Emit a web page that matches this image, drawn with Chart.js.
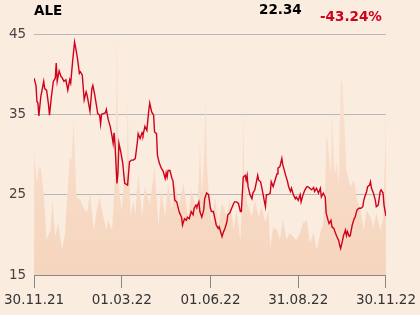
<!DOCTYPE html>
<html>
<head>
<meta charset="utf-8">
<script src="https://cdn.jsdelivr.net/npm/chart.js@4/dist/chart.umd.min.js"></script>
<style>
  html, body { margin: 0; padding: 0; background: #fbece0; }
  #wrap { position: relative; width: 420px; height: 315px; }
  canvas { position: absolute; left: 0; top: 0; }
  .hd { position: absolute; font-family: 'DejaVu Sans', sans-serif; font-weight: bold; font-size: 13.5px; line-height: 1; white-space: nowrap; }
  #sym { left: 34px; top: 3.6px; color: #000; }
  #last { left: 259px; top: 2.6px; color: #000; }
  #chg { left: 320px; top: 9.6px; color: #d0021b; }
</style>
</head>
<body>
<div id="wrap">
  <canvas id="chart" width="420" height="315"></canvas>
  <div class="hd" id="sym">ALE</div>
  <div class="hd" id="last">22.34</div>
  <div class="hd" id="chg">-43.24%</div>
</div>
<script>
// Tage seit 30.11.21
const tickDays = [0, 91, 183, 274, 365];
const tickLabels = ['30.11.21', '01.03.22', '01.06.22', '31.08.22', '30.11.22'];
const yTicks = [15, 25, 35, 45];

// Kurs
const priceDays = [0, 2, 3, 4, 5, 7, 10, 11, 13, 15, 16, 18, 20, 22, 23, 24, 26, 28, 29, 31, 33, 35, 37, 38, 40, 42, 43, 45, 47, 48,
  50, 52, 54, 55, 58, 60, 61, 63, 65, 66, 68, 69, 70, 72, 74, 75, 77, 79, 81, 82, 83, 84, 86, 87, 88, 90, 92, 94, 97, 99,
  101, 103, 105, 107, 108, 110, 112, 113, 115, 117, 119, 120, 122, 124, 125, 127, 128, 130, 132, 134, 136, 137, 138, 139, 141, 143, 144, 146, 148, 150,
  151, 153, 154, 156, 158, 159, 161, 163, 165, 166, 168, 169, 171, 172, 174, 176, 177, 179, 181, 183, 184, 186, 188, 189, 191, 192, 194, 195, 196, 198,
  200, 201, 203, 205, 207, 208, 210, 212, 214, 215, 217, 219, 220, 221, 222, 224, 226, 227, 229, 231, 232, 233, 235, 237, 239, 240, 241, 243, 245, 246,
  248, 250, 252, 253, 255, 257, 258, 259, 261, 263, 264, 266, 267, 269, 271, 272, 274, 276, 277, 279, 281, 283, 284, 286, 288, 290, 291, 293, 295, 297,
  298, 300, 302, 303, 305, 306, 308, 309, 311, 312, 314, 316, 317, 318, 320, 321, 323, 324, 325, 327, 328, 330, 332, 333, 335, 337, 339, 341, 342, 343,
  345, 346, 348, 349, 350, 352, 354, 355, 357, 359, 360, 362, 363, 365];
const priceValues = [39.5, 38.6, 36.6, 36.4, 34.8, 37.2, 39.1, 38.2, 38.0, 36.2, 34.9, 37.2, 39.1, 39.5, 41.4, 39.1, 40.4, 39.7, 39.6, 39.1, 39.3, 38.0, 39.3, 38.9, 41.6, 44.0, 43.4, 42.0, 40.1, 40.3,
  39.9, 36.8, 37.8, 37.4, 35.4, 38.2, 38.6, 37.4, 35.9, 35.1, 34.9, 33.8, 35.0, 35.1, 35.2, 35.6, 34.3, 33.5, 32.2, 31.4, 32.7, 31.2, 26.4, 27.7, 31.4, 30.3, 28.9, 26.4, 26.2, 29.1,
  29.3, 29.3, 29.5, 31.4, 32.6, 32.0, 32.7, 32.4, 33.5, 33.0, 35.5, 36.4, 35.3, 34.9, 32.8, 32.6, 29.9, 28.9, 28.3, 27.9, 27.0, 27.7, 27.2, 28.0, 28.0, 27.0, 26.8, 24.3, 24.1, 23.1,
  22.7, 22.2, 21.2, 22.0, 21.8, 22.2, 22.0, 22.9, 22.5, 23.3, 23.7, 23.5, 24.1, 22.9, 22.2, 23.1, 24.5, 25.2, 25.0, 23.3, 22.9, 22.9, 21.8, 21.2, 20.8, 21.0, 20.2, 19.8, 20.2, 20.8,
  21.6, 22.5, 22.7, 23.3, 23.9, 24.1, 24.1, 23.9, 22.9, 22.9, 27.2, 27.4, 26.8, 27.4, 26.0, 25.0, 24.5, 25.2, 25.6, 26.8, 27.4, 26.8, 26.6, 25.4, 24.1, 23.5, 25.0, 25.0, 25.2, 26.6,
  26.0, 26.8, 27.6, 28.3, 28.5, 29.5, 28.7, 28.3, 27.4, 26.6, 26.0, 25.4, 25.8, 25.0, 24.5, 24.7, 24.3, 25.0, 24.1, 25.0, 25.6, 26.0, 26.0, 25.8, 25.6, 25.9, 25.4, 25.8, 25.2, 25.8,
  24.7, 25.2, 24.7, 22.7, 21.8, 21.4, 21.8, 21.0, 20.8, 20.4, 19.8, 19.3, 18.7, 18.3, 19.3, 19.9, 20.6, 19.9, 20.4, 19.8, 19.9, 21.2, 22.0, 22.2, 23.1, 23.3, 23.3, 23.5, 24.3, 24.7,
  25.4, 26.0, 26.2, 26.6, 25.8, 25.2, 24.3, 23.5, 23.7, 25.4, 25.6, 25.2, 23.7, 22.34];

// Umsatz (Tsd. Stück)
const volDays = [0, 3, 5, 7, 10, 13, 17, 19, 22, 25, 29, 32, 37, 39, 41, 42, 44, 48, 51, 55, 58, 62, 65, 68, 72, 75, 77, 81, 84, 86,
  87, 88, 91, 93, 96, 97, 99, 100, 103, 105, 108, 112, 115, 120, 125, 129, 132, 136, 139, 143, 146, 150, 155, 160, 163, 169, 171, 172, 174, 176,
  178, 179, 181, 184, 188, 191, 195, 200, 203, 207, 210, 214, 216, 217, 218, 221, 226, 229, 233, 236, 240, 243, 245, 248, 252, 255, 258, 262, 265, 269,
  272, 276, 279, 283, 286, 290, 293, 297, 300, 302, 303, 304, 306, 308, 309, 311, 312, 314, 316, 318, 320, 322, 324, 328, 332, 335, 338, 342, 345, 349,
  352, 355, 359, 362, 364, 365];
const volValues = [122, 92, 107, 108, 82, 35, 45, 75, 38, 53, 25, 42, 118, 115, 155, 130, 78, 75, 68, 62, 82, 45, 65, 78, 58, 45, 55, 45, 98, 238,
  150, 85, 65, 90, 105, 172, 95, 58, 75, 60, 102, 58, 88, 72, 108, 48, 85, 58, 92, 65, 95, 68, 92, 55, 85, 65, 100, 132, 80, 110,
  177, 120, 82, 52, 78, 48, 72, 58, 75, 45, 65, 35, 80, 167, 100, 72, 58, 75, 58, 68, 52, 65, 28, 48, 45, 35, 55, 35, 42, 38,
  35, 42, 52, 55, 32, 42, 25, 42, 52, 85, 135, 138, 120, 100, 166, 112, 100, 113, 90, 194, 193, 150, 105, 88, 95, 75, 68, 45, 65, 58,
  48, 62, 45, 55, 120, 165];

const pricePts = priceDays.map((d, i) => ({ x: d, y: priceValues[i] }));
const volPts = volDays.map((d, i) => ({ x: d, y: volValues[i] }));

const ctx = document.getElementById('chart');
new Chart(ctx, {
  type: 'line',
  data: {
    datasets: [{
      label: 'Kurs',
      data: pricePts,
      yAxisID: 'y',
      borderColor: '#d0021b',
      borderWidth: 1.4,
      pointRadius: 0,
      tension: 0,
      fill: false,
      order: 0
    }, {
      label: 'Umsatz',
      data: volPts,
      yAxisID: 'yv',
      borderWidth: 0,
      pointRadius: 0,
      tension: 0,
      fill: 'start',
      order: 1,
      backgroundColor: (c) => {
        const area = c.chart.chartArea;
        if (!area) return '#f7d9c4';
        const g = c.chart.ctx.createLinearGradient(0, area.top, 0, area.bottom);
        g.addColorStop(0, '#f9e4d5');
        g.addColorStop(1, '#f6d5bd');
        return g;
      }
    }]
  },
  options: {
    responsive: false,
    animation: false,
    layout: { padding: { top: 34, right: 34, left: 0, bottom: 0 } },
    plugins: { legend: { display: false }, tooltip: { enabled: false } },
    scales: {
      x: {
        type: 'linear',
        min: 0,
        max: 365,
        afterBuildTicks: (scale) => { scale.ticks = tickDays.map(v => ({ value: v })); },
        afterFit: (scale) => { scale.height = 40; },
        ticks: {
          autoSkip: false,
          maxRotation: 0,
          padding: 4,
          color: '#333',
          font: { family: 'DejaVu Sans', size: 13.5 },
          callback: (v) => tickLabels[tickDays.indexOf(v)]
        },
        grid: { drawOnChartArea: false, drawTicks: true, tickLength: 13, color: '#888' },
        border: { display: true, color: '#888' }
      },
      y: {
        position: 'left',
        min: 15,
        max: 45,
        afterBuildTicks: (scale) => { scale.ticks = yTicks.map(v => ({ value: v })); },
        afterFit: (scale) => { scale.width = 34; },
        ticks: {
          padding: 8,
          color: '#444',
          font: { family: 'DejaVu Sans', size: 13.5 }
        },
        grid: {
          drawTicks: false,
          color: (c) => c.tick && c.tick.value === 15 ? 'rgba(0,0,0,0)' : '#b8b8b8'
        },
        border: { display: false }
      },
      yv: {
        display: false,
        min: 0,
        max: 241
      }
    }
  }
});
</script>
</body>
</html>
